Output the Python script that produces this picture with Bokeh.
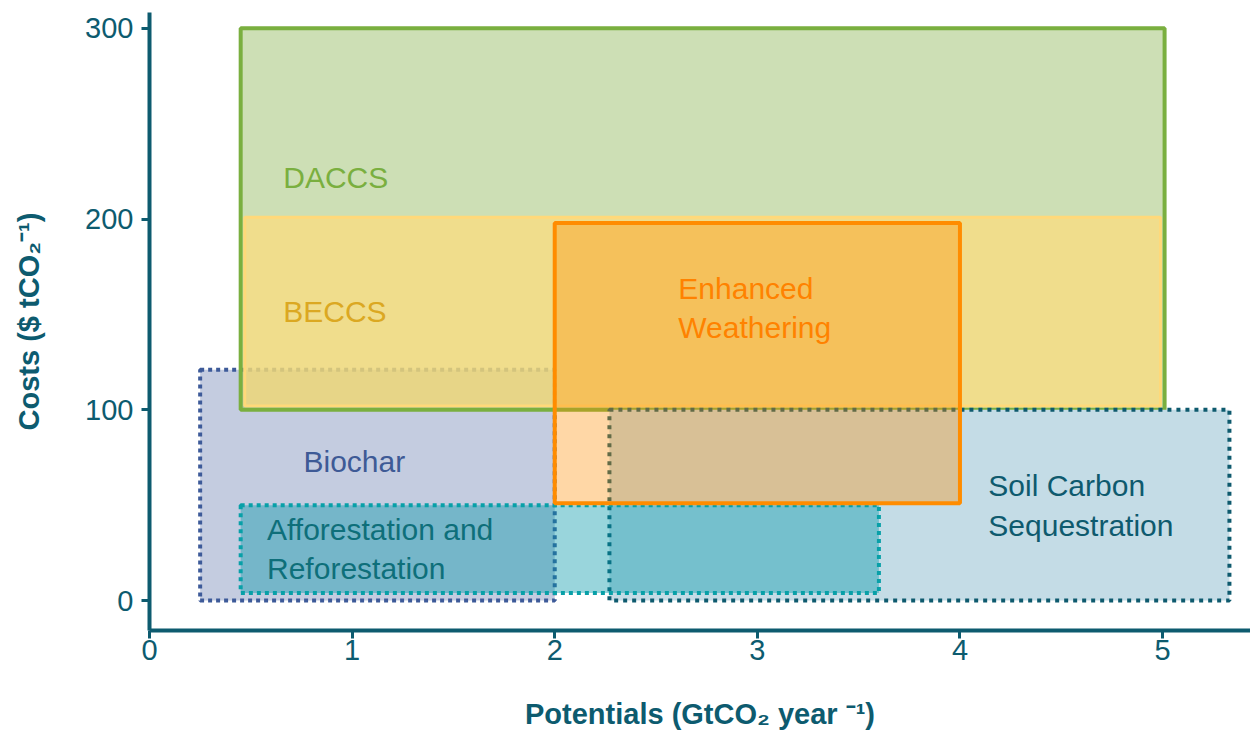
from bokeh.plotting import figure
from bokeh.models import Range1d, FixedTicker, ColumnDataSource
from bokeh.embed import file_html
from bokeh.resources import INLINE
from bokeh.core.properties import value

# ---- data ----
methods = ["DACCS", "BECCS", "Biochar", "Afforestation and\nReforestation",
           "Enhanced\nWeathering", "Soil Carbon\nSequestration"]
potential_low = [0.45, 0.47, 0.25, 0.45, 2.0, 2.27]     # GtCO2 / yr
potential_high = [5.01, 4.99, 2.0, 3.6, 4.0, 5.33]
cost_low = [100, 102, 0, 4, 51, 0]                     # $ / tCO2
cost_high = [300, 201, 121, 50, 198, 100]
label_x = [0.66, 0.66, 0.76, 0.58, 2.61, 4.14]
label_y = [222, 151.5, 73, 27, 153.4, 49.8]

x_ticks = [0, 1, 2, 3, 4, 5]
y_ticks = [0, 100, 200, 300]

AX = "#0d5b6f"
FONT = "Liberation Sans"

p = figure(width=1250, height=734,
           x_range=Range1d(0, 5.434), y_range=Range1d(-15.7, 308.3),
           output_backend="svg", toolbar_location=None,
           min_border_left=149, min_border_right=0,
           min_border_top=12, min_border_bottom=104)
p.xgrid.visible = False
p.ygrid.visible = False
p.outline_line_color = None
p.background_fill_color = "white"


def src(i):
    return ColumnDataSource(dict(left=[potential_low[i]], right=[potential_high[i]],
                                 bottom=[cost_low[i]], top=[cost_high[i]]))


# Biochar
p.quad(left="left", right="right", bottom="bottom", top="top", source=src(2),
       fill_color="#c4cce0", fill_alpha=1.0,
       line_color="#3d5a99", line_width=4, line_dash="4 4")
# DACCS fill
p.quad(left="left", right="right", bottom="bottom", top="top", source=src(0),
       fill_color="#9bbf6b", fill_alpha=0.5, line_color=None)
# BECCS
p.quad(left="left", right="right", bottom="bottom", top="top", source=src(1),
       fill_color="#ffdb7a", fill_alpha=0.7, line_color="#ffd97a", line_width=3)
# DACCS outline
p.quad(left="left", right="right", bottom="bottom", top="top", source=src(0),
       fill_color=None, line_color="#7aaf3f", line_width=4)
# Soil carbon
p.quad(left="left", right="right", bottom="bottom", top="top", source=src(5),
       fill_color="#c4dce6", fill_alpha=1.0,
       line_color="#0e5a6e", line_width=4, line_dash="4 5")
# Afforestation
p.quad(left="left", right="right", bottom="bottom", top="top", source=src(3),
       fill_color="#0097a7", fill_alpha=0.4,
       line_color="#08a0a8", line_width=4, line_dash="4 4")
# Enhanced weathering
p.quad(left="left", right="right", bottom="bottom", top="top", source=src(4),
       fill_color="#ff8c00", fill_alpha=0.35, line_color="#ff8c00", line_width=4)

label_colors = ["#7aaf3f", "#dba822", "#3e5a96", "#0e6f7a", "#ff8200", "#0e5a6e"]
p.text(x=label_x, y=label_y, text=methods, text_color=label_colors,
       text_font=value(FONT), text_font_size="30px",
       text_align="left", text_baseline="middle", text_line_height=1.2)

# axes
for ax in (p.xaxis[0], p.yaxis[0]):
    ax.axis_line_color = AX
    ax.axis_line_width = 4
    ax.major_tick_line_color = AX
    ax.major_tick_line_width = 3
    ax.major_tick_in = 0
    ax.major_tick_out = 8
    ax.minor_tick_line_color = None
    ax.major_label_text_font = FONT
    ax.major_label_text_font_size = "29px"
    ax.major_label_text_color = AX
    ax.axis_label_text_font = FONT
    ax.axis_label_text_font_size = "29px"
    ax.axis_label_text_font_style = "bold"
    ax.axis_label_text_color = AX

p.xaxis.ticker = FixedTicker(ticks=x_ticks)
p.yaxis.ticker = FixedTicker(ticks=y_ticks)
p.xaxis.major_label_standoff = 1
p.yaxis.major_label_standoff = 8
p.xaxis.axis_label = "Potentials (GtCO\u2082 year \u207b\u00b9)"
p.yaxis.axis_label = "Costs ($ tCO\u2082\u207b\u00b9)"
p.xaxis.axis_label_standoff = 35
p.yaxis.axis_label_standoff = 37

open("out.html", "w").write(file_html(p, INLINE))
